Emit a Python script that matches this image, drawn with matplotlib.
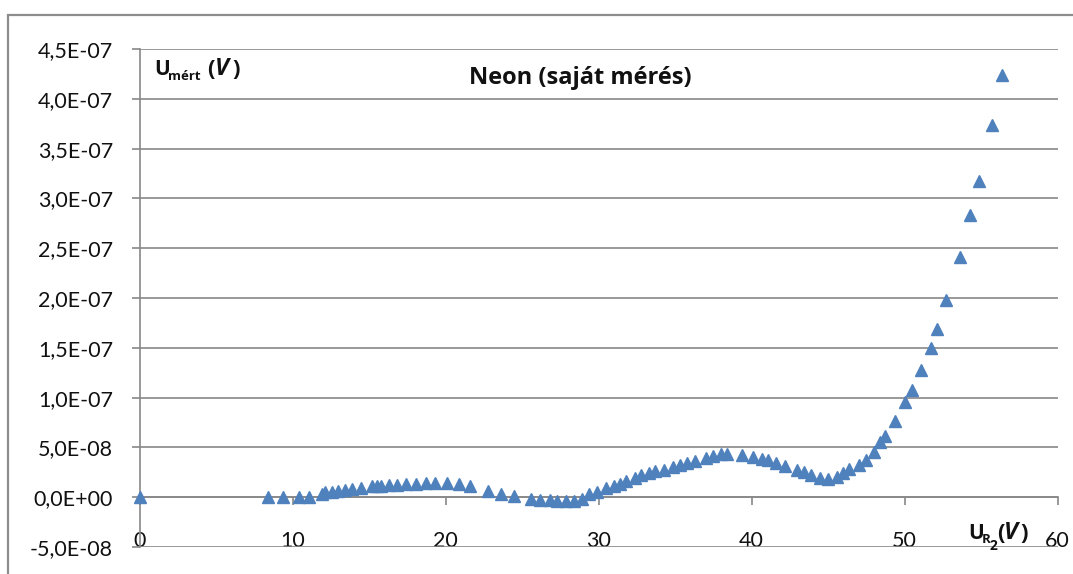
import numpy as np
import matplotlib
matplotlib.use("Agg")
import matplotlib.pyplot as plt
from matplotlib.patches import Rectangle
from matplotlib.ticker import FixedLocator

# measured data: U_R2 (V) vs U_mert (V)
u_r2 = [0, 8.4, 9.4, 10.4, 11.1, 11.9, 12.1, 12.6, 13.0, 13.4, 13.9, 14.5, 15.2,
        15.5, 15.8, 16.3, 16.8, 17.4, 18.1, 18.7, 19.3, 20.1, 20.9, 21.6, 22.8,
        23.6, 24.5, 25.6, 26.2, 26.8, 27.3, 27.9, 28.4, 28.9, 29.4, 29.9, 30.5,
        31.0, 31.4, 31.8, 32.4, 32.8, 33.3, 33.7, 34.3, 34.9, 35.3, 35.8, 36.3,
        37.0, 37.5, 38.0, 38.4, 39.4, 40.1, 40.7, 41.1, 41.6, 42.2, 43.0, 43.4,
        43.9, 44.5, 45.0, 45.6, 46.0, 46.4, 47.0, 47.5, 48.0, 48.4, 48.7, 49.4,
        50.0, 50.5, 51.1, 51.7, 52.1, 52.7, 53.6, 54.3, 54.9, 55.7, 56.4]
u_mert_e8 = [0, 0, 0, 0, 0, 0.3, 0.5, 0.57, 0.67, 0.77, 0.84, 0.94, 1.1,
             1.17, 1.17, 1.24, 1.27, 1.34, 1.34, 1.38, 1.44, 1.47, 1.3, 1.1, 0.62,
             0.35, 0.1, -0.2, -0.27, -0.33, -0.38, -0.4, -0.4, -0.15, 0.33, 0.55, 0.9,
             1.1, 1.35, 1.65, 1.95, 2.2, 2.4, 2.6, 2.75, 3.0, 3.2, 3.4, 3.6,
             3.9, 4.1, 4.3, 4.35, 4.25, 4.05, 3.85, 3.7, 3.4, 3.15, 2.75, 2.55,
             2.25, 1.95, 1.8, 2.05, 2.4, 2.8, 3.2, 3.75, 4.5, 5.5, 6.1, 7.7,
             9.6, 10.8, 12.8, 15.0, 16.9, 19.8, 24.1, 28.3, 31.7, 37.4, 42.4]

x_ticks = [0, 10, 20, 30, 40, 50, 60]
y_ticks = [-5e-8, 0, 5e-8, 1e-7, 1.5e-7, 2e-7, 2.5e-7, 3e-7, 3.5e-7, 4e-7, 4.5e-7]
y_tick_labels = ["-5,0E-08", "0,0E+00", "5,0E-08", "1,0E-07", "1,5E-07", "2,0E-07",
                 "2,5E-07", "3,0E-07", "3,5E-07", "4,0E-07", "4,5E-07"]

plt.rcParams['font.family'] = ['Lato', 'DejaVu Sans']

W, H = 1073, 574
fig = plt.figure(figsize=(W / 100, H / 100), dpi=100)


def fx(px):
    return px / W


def fy(py):
    return 1 - py / H


# outer chart frame
fig.patches.append(Rectangle((fx(8), fy(600)), fx(1100) - fx(8), fy(15) - fy(600),
                             transform=fig.transFigure, fill=False,
                             edgecolor="#8c8c8c", linewidth=1.6))

ax = fig.add_axes([fx(139.5), fy(547), fx(1057.5) - fx(139.5), fy(49) - fy(547)])

grid_c = "#888888"
y = np.array(u_mert_e8) * 1e-8
ax.plot(u_r2, y, linestyle="none", marker="^", markersize=9,
        color="#4F81BD", markeredgecolor="#4F81BD", zorder=5, clip_on=False)

ax.set_xlim(0, 60)
ax.set_ylim(-5e-8, 4.5e-7)

ax.yaxis.set_major_locator(FixedLocator(y_ticks))
ax.set_yticklabels(y_tick_labels)
ax.xaxis.set_major_locator(FixedLocator(x_ticks))
ax.set_xticklabels([str(t) for t in x_ticks])

ax.grid(axis="y", color=grid_c, linewidth=1.2)
ax.set_axisbelow(True)

for s in ["top", "right"]:
    ax.spines[s].set_visible(False)
ax.spines["bottom"].set_position(("data", 0))
ax.spines["bottom"].set_color(grid_c)
ax.spines["bottom"].set_linewidth(1.2)
ax.spines["left"].set_color(grid_c)
ax.spines["left"].set_linewidth(1.2)

ax.tick_params(axis="y", direction="out", length=6, width=1.2, color=grid_c,
               pad=13, labelsize=15.5, labelcolor="#111111")
ax.tick_params(axis="x", direction="out", length=6, width=1.2, color=grid_c,
               pad=18, labelsize=15.5, labelcolor="#111111")

bold = dict(family=['Open Sans', 'DejaVu Sans'], fontweight="bold", color="#111111",
            ha="left", va="baseline")

# title inside plot
fig.text(fx(580), fy(84), "Neon (saját mérés)", fontsize=17, **{**bold, "ha": "center"})

# y axis label: U_mért (V)
fig.text(fx(154), fy(75), "U", fontsize=15, **bold)
fig.text(fx(168), fy(80), "mért", fontsize=9.5, **bold)
fig.text(fx(207), fy(75), "(", fontsize=16, **bold)
fig.text(fx(215), fy(75), "V", fontsize=17, fontstyle="italic", **bold)
fig.text(fx(232), fy(75), ")", fontsize=16, **bold)

# x axis label: U_R2 (V)
fig.text(fx(968), fy(539), "U", fontsize=15, **bold)
fig.text(fx(982), fy(543), "R", fontsize=9.5, **bold)
fig.text(fx(990), fy(550), "2", fontsize=10, **bold)
fig.text(fx(997), fy(539), "(", fontsize=16, **bold)
fig.text(fx(1004), fy(539), "V", fontsize=17, fontstyle="italic", **bold)
fig.text(fx(1020), fy(539), ")", fontsize=16, **bold)

fig.savefig("out.png", dpi=100)
